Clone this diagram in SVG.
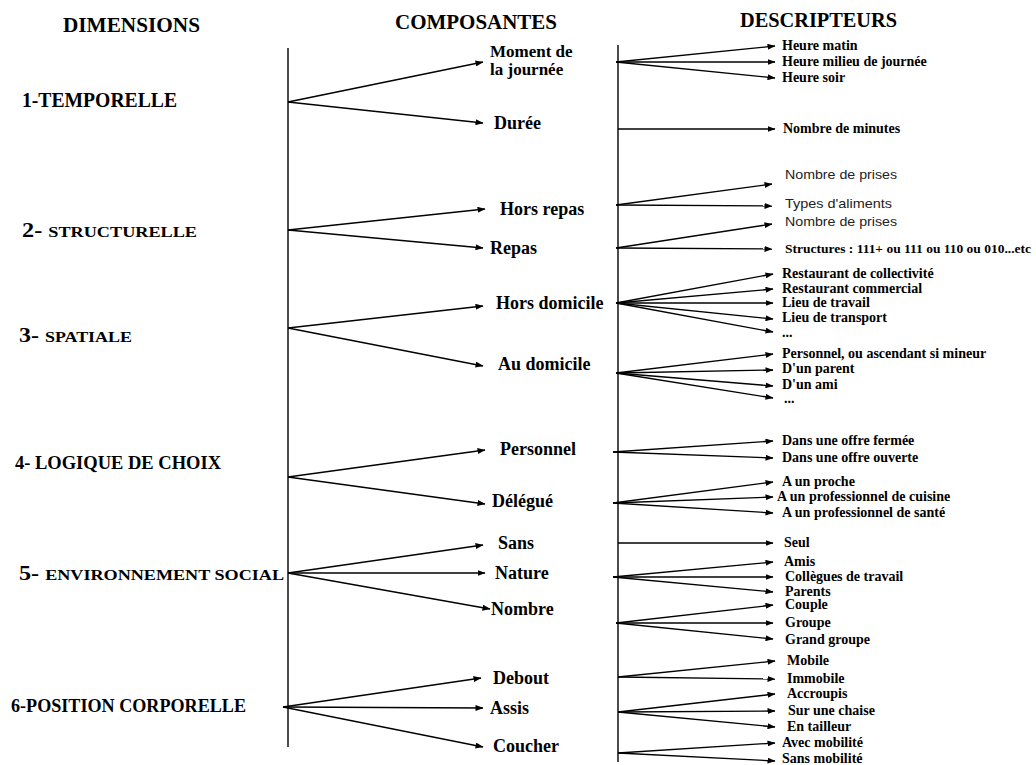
<svg xmlns="http://www.w3.org/2000/svg" width="1036" height="765" viewBox="0 0 1036 765">
<defs>
<marker id="ah" markerUnits="userSpaceOnUse" markerWidth="8" markerHeight="6" refX="7.5" refY="3" orient="auto">
<path d="M0,0 L8,3 L0,6 z" fill="#000"/>
</marker>
<style>
text{font-family:"Liberation Serif","Times New Roman",serif;font-weight:bold;fill:#000}
.h{font-size:20px}
.d{font-size:20px}
.sc{font-size:15px}
.c{font-size:18px}
.m{font-size:17px}
.r{font-size:14px}
.s{font-size:13px}
.l{font-family:"Liberation Sans",Arial,sans-serif;font-weight:normal;font-size:13px;fill:#222}
.ax{stroke:#000;stroke-width:1.4;fill:none}
.cn{stroke:#000;stroke-width:1.3;fill:none;marker-end:url(#ah)}
</style>
</defs>
<rect width="1036" height="765" fill="#fff"/>

<g id="headers">
<text class="h" x="63" y="32" textLength="137" lengthAdjust="spacingAndGlyphs">DIMENSIONS</text>
<text class="h" x="395" y="29" textLength="162" lengthAdjust="spacingAndGlyphs">COMPOSANTES</text>
<text class="h" x="740" y="27" textLength="157" lengthAdjust="spacingAndGlyphs">DESCRIPTEURS</text>
</g>

<g id="connectors">
<line class="ax" x1="288" y1="48" x2="288" y2="747"/>
<line class="ax" x1="618" y1="45" x2="618" y2="762"/>
<line class="cn" x1="288" y1="102" x2="483" y2="62"/>
<line class="cn" x1="288" y1="102" x2="483" y2="123"/>
<line class="cn" x1="288" y1="230" x2="485" y2="209"/>
<line class="cn" x1="288" y1="230" x2="483" y2="248"/>
<line class="cn" x1="288" y1="328" x2="483" y2="306"/>
<line class="cn" x1="288" y1="328" x2="483" y2="366"/>
<line class="cn" x1="288" y1="477" x2="485" y2="450"/>
<line class="cn" x1="288" y1="477" x2="485" y2="504"/>
<line class="cn" x1="288" y1="573" x2="483" y2="545"/>
<line class="cn" x1="288" y1="573" x2="485" y2="573"/>
<line class="cn" x1="288" y1="573" x2="490" y2="609"/>
<line class="cn" x1="283" y1="707" x2="481" y2="678"/>
<line class="cn" x1="283" y1="707" x2="483" y2="708"/>
<line class="cn" x1="283" y1="707" x2="483" y2="747"/>
<line class="cn" x1="616" y1="62" x2="775" y2="46"/>
<line class="cn" x1="616" y1="62" x2="775" y2="62"/>
<line class="cn" x1="616" y1="62" x2="775" y2="78"/>
<line class="cn" x1="618" y1="129" x2="775" y2="129"/>
<line class="cn" x1="616" y1="205" x2="772" y2="184"/>
<line class="cn" x1="616" y1="205" x2="772" y2="206"/>
<line class="cn" x1="616" y1="248" x2="772" y2="224"/>
<line class="cn" x1="616" y1="248" x2="772" y2="249"/>
<line class="cn" x1="616" y1="303" x2="773" y2="274"/>
<line class="cn" x1="616" y1="303" x2="773" y2="289"/>
<line class="cn" x1="616" y1="303" x2="773" y2="303"/>
<line class="cn" x1="616" y1="303" x2="773" y2="319"/>
<line class="cn" x1="616" y1="303" x2="773" y2="332"/>
<line class="cn" x1="616" y1="373" x2="773" y2="354"/>
<line class="cn" x1="616" y1="373" x2="773" y2="370"/>
<line class="cn" x1="616" y1="373" x2="773" y2="386"/>
<line class="cn" x1="616" y1="373" x2="773" y2="398"/>
<line class="cn" x1="613" y1="452" x2="773" y2="441"/>
<line class="cn" x1="613" y1="452" x2="773" y2="458"/>
<line class="cn" x1="613" y1="503" x2="773" y2="482"/>
<line class="cn" x1="613" y1="503" x2="773" y2="497"/>
<line class="cn" x1="613" y1="503" x2="773" y2="513"/>
<line class="cn" x1="618" y1="543" x2="773" y2="543"/>
<line class="cn" x1="613" y1="577" x2="773" y2="562"/>
<line class="cn" x1="613" y1="577" x2="773" y2="577"/>
<line class="cn" x1="613" y1="577" x2="773" y2="592"/>
<line class="cn" x1="616" y1="623" x2="773" y2="605"/>
<line class="cn" x1="616" y1="623" x2="773" y2="623"/>
<line class="cn" x1="616" y1="623" x2="773" y2="639"/>
<line class="cn" x1="618" y1="677" x2="775" y2="661"/>
<line class="cn" x1="618" y1="677" x2="775" y2="679"/>
<line class="cn" x1="618" y1="712" x2="775" y2="694"/>
<line class="cn" x1="618" y1="712" x2="775" y2="711"/>
<line class="cn" x1="618" y1="712" x2="775" y2="727"/>
<line class="cn" x1="618" y1="753" x2="775" y2="743"/>
<line class="cn" x1="618" y1="753" x2="775" y2="761"/>
</g>

<g id="dim1"><text class="d" x="22" y="107" textLength="155" lengthAdjust="spacingAndGlyphs">1-TEMPORELLE</text></g>
<g id="dim2"><text class="d" x="22" y="237" textLength="175" lengthAdjust="spacingAndGlyphs">2- <tspan class="sc">STRUCTURELLE</tspan></text></g>
<g id="dim3"><text class="d" x="19" y="342" textLength="113" lengthAdjust="spacingAndGlyphs">3- <tspan class="sc">SPATIALE</tspan></text></g>
<g id="dim4"><text class="c" x="15" y="469" textLength="206" lengthAdjust="spacingAndGlyphs">4- LOGIQUE DE CHOIX</text></g>
<g id="dim5"><text class="d" x="19" y="580" textLength="265" lengthAdjust="spacingAndGlyphs">5- <tspan class="sc">ENVIRONNEMENT SOCIAL</tspan></text></g>
<g id="dim6"><text class="c" x="11" y="712" textLength="235" lengthAdjust="spacingAndGlyphs">6-POSITION CORPORELLE</text></g>

<g id="comp-moment"><text class="m" x="490" y="57">Moment de</text><text class="m" x="490" y="75">la journée</text></g>
<g id="comp-duree"><text class="c" x="494" y="129">Durée</text></g>
<g id="comp-horsrepas"><text class="c" x="500" y="215">Hors repas</text></g>
<g id="comp-repas"><text class="c" x="490" y="254">Repas</text></g>
<g id="comp-horsdomicile"><text class="c" x="496" y="309">Hors domicile</text></g>
<g id="comp-audomicile"><text class="c" x="498" y="370">Au domicile</text></g>
<g id="comp-personnel"><text class="c" x="500" y="455">Personnel</text></g>
<g id="comp-delegue"><text class="c" x="492" y="507">Délégué</text></g>
<g id="comp-sans"><text class="c" x="498" y="549">Sans</text></g>
<g id="comp-nature"><text class="c" x="495" y="579">Nature</text></g>
<g id="comp-nombre"><text class="c" x="491" y="615">Nombre</text></g>
<g id="comp-debout"><text class="c" x="493" y="684">Debout</text></g>
<g id="comp-assis"><text class="c" x="490" y="714">Assis</text></g>
<g id="comp-coucher"><text class="c" x="493" y="752">Coucher</text></g>

<g id="desc-moment">
<text class="r" x="782" y="50">Heure matin</text>
<text class="r" x="782" y="66">Heure milieu de journée</text>
<text class="r" x="782" y="82">Heure soir</text>
</g>
<g id="desc-duree"><text class="r" x="783" y="133">Nombre de minutes</text></g>
<g id="desc-horsrepas">
<text class="l" x="785" y="179" textLength="112" lengthAdjust="spacingAndGlyphs">Nombre de prises</text>
<text class="l" x="785" y="208" textLength="107" lengthAdjust="spacingAndGlyphs">Types d'aliments</text>
</g>
<g id="desc-repas">
<text class="l" x="785" y="226" textLength="112" lengthAdjust="spacingAndGlyphs">Nombre de prises</text>
<text class="s" x="785" y="253" textLength="246" lengthAdjust="spacingAndGlyphs">Structures : 111+ ou 111 ou 110 ou 010...etc</text>
</g>
<g id="desc-horsdomicile">
<text class="r" x="782" y="278">Restaurant de collectivité</text>
<text class="r" x="782" y="293">Restaurant commercial</text>
<text class="r" x="782" y="307">Lieu de travail</text>
<text class="r" x="782" y="322">Lieu de transport</text>
<text class="r" x="782" y="337">...</text>
</g>
<g id="desc-audomicile">
<text class="r" x="782" y="358">Personnel, ou ascendant si mineur</text>
<text class="r" x="782" y="373">D'un parent</text>
<text class="r" x="782" y="389">D'un ami</text>
<text class="r" x="784" y="403">...</text>
</g>
<g id="desc-personnel">
<text class="r" x="782" y="445">Dans une offre fermée</text>
<text class="r" x="782" y="462">Dans une offre ouverte</text>
</g>
<g id="desc-delegue">
<text class="r" x="782" y="486">A un proche</text>
<text class="r" x="777" y="501">A un professionnel de cuisine</text>
<text class="r" x="782" y="517">A un professionnel de santé</text>
</g>
<g id="desc-sans"><text class="r" x="784" y="547">Seul</text></g>
<g id="desc-nature">
<text class="r" x="784" y="566">Amis</text>
<text class="r" x="785" y="581">Collègues de travail</text>
<text class="r" x="785" y="596">Parents</text>
</g>
<g id="desc-nombre">
<text class="r" x="785" y="609">Couple</text>
<text class="r" x="785" y="627">Groupe</text>
<text class="r" x="785" y="644">Grand groupe</text>
</g>
<g id="desc-debout">
<text class="r" x="787" y="665">Mobile</text>
<text class="r" x="787" y="683">Immobile</text>
</g>
<g id="desc-assis">
<text class="r" x="787" y="698">Accroupis</text>
<text class="r" x="788" y="715">Sur une chaise</text>
<text class="r" x="787" y="731">En tailleur</text>
</g>
<g id="desc-coucher">
<text class="r" x="782" y="747">Avec mobilité</text>
<text class="r" x="782" y="763">Sans mobilité</text>
</g>
</svg>
